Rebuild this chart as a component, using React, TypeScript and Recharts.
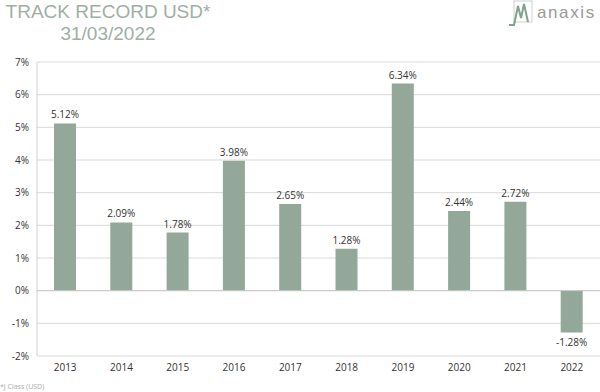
import { BarChart, Bar, XAxis, YAxis, CartesianGrid, ReferenceLine, LabelList } from 'recharts';

const years = ['2013', '2014', '2015', '2016', '2017', '2018', '2019', '2020', '2021', '2022'];
const returns = [5.12, 2.09, 1.78, 3.98, 2.65, 1.28, 6.34, 2.44, 2.72, -1.28];
const yTicks = [-2, -1, 0, 1, 2, 3, 4, 5, 6, 7];

const data = years.map((year, i) => ({ year, value: returns[i] }));

const fontBody = 'Open Sans, DejaVu Sans, sans-serif';

function ValueLabel(props: any) {
  const { x, y, width, height, value } = props;
  const neg = value < 0;
  const cx = x + width / 2;
  const top = Math.min(y, y + height);
  const bottom = Math.max(y, y + height);
  const ty = neg ? bottom + 14 : top - 5;
  return (
    <text x={cx} y={ty} textAnchor="middle" fontSize={10} fill="#333" fontFamily={fontBody}>
      {value.toFixed(2)}%
    </text>
  );
}

export default function App() {
  return (
    <div style={{ position: 'absolute', left: 0, top: 0, width: 600, height: 392, background: '#fff' }}>
      <div
        style={{
          position: 'absolute',
          left: 5,
          top: 1,
          width: 206,
          fontFamily: 'Liberation Sans, Arial, sans-serif',
          fontSize: 19,
          color: '#a0afa4',
          lineHeight: '22px',
          textAlign: 'center',
        }}
      >
        <div>TRACK RECORD USD*</div>
        <div>31/03/2022</div>
      </div>
      <div style={{ position: 'absolute', left: 508, top: 0, display: 'flex', alignItems: 'center' }}>
        <svg width={26} height={26} viewBox="0 0 26 26">
          <rect x={6} y={1} width={18} height={21} fill="none" stroke="#cfcfcf" strokeWidth={1} />
          <polyline points="1,25 6,25 10,6 13,18 16,4 20,22" fill="none" stroke="#7fa38f" strokeWidth={2} />
        </svg>
        <span
          style={{
            fontFamily: 'Liberation Sans, Arial, sans-serif',
            fontSize: 17,
            color: '#9a9a9a',
            letterSpacing: 1.6,
            marginLeft: 3,
          }}
        >
          anaxis
        </span>
      </div>
      <BarChart
        width={600}
        height={392}
        data={data}
        margin={{ top: 62, right: 0, bottom: 14, left: 0 }}
        barCategoryGap="30%"
      >
        <CartesianGrid vertical={false} stroke="#d9d9d9" />
        <XAxis
          dataKey="year"
          axisLine={false}
          tickLine={false}
          height={22}
          tick={{ fontSize: 10, fill: '#333', fontFamily: fontBody }}
        />
        <YAxis
          width={37}
          domain={[-2, 7]}
          ticks={yTicks}
          interval={0}
          tickFormatter={(v: number) => `${v}%`}
          axisLine={{ stroke: '#d0d0d0' }}
          tickLine={false}
          tick={{ fontSize: 10, fill: '#333', fontFamily: fontBody }}
        />
        <ReferenceLine y={0} stroke="#c8c8c8" />
        <Bar dataKey="value" fill="#93a898" isAnimationActive={false} barSize={22}>
          <LabelList dataKey="value" content={<ValueLabel />} />
        </Bar>
      </BarChart>
      <div
        style={{
          position: 'absolute',
          left: 0,
          top: 382,
          fontFamily: fontBody,
          fontSize: 7,
          color: '#aaa',
        }}
      >
        *J Class (USD)
      </div>
    </div>
  );
}
